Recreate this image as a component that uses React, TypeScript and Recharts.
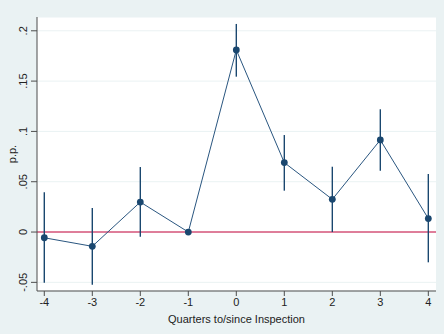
import React from "react";
import {
  ComposedChart,
  Line,
  ErrorBar,
  XAxis,
  YAxis,
  CartesianGrid,
  ReferenceLine,
} from "recharts";

// event-study estimates with 95% bands, by quarter relative to inspection
const quarters = [-4, -3, -2, -1, 0, 1, 2, 3, 4];
const estimates = [-0.0057, -0.0142, 0.0298, 0, 0.181, 0.069, 0.0325, 0.0915, 0.0134];
const ciLow = [-0.0504, -0.0524, -0.0047, 0, 0.1544, 0.0411, 0.0, 0.0609, -0.0301];
const ciHigh = [0.0395, 0.0239, 0.0646, 0, 0.2068, 0.0964, 0.0649, 0.122, 0.0577];
const yTicks = [-0.05, 0, 0.05, 0.1, 0.15, 0.2];

const NAVY = "#1a476f";
const BG = "#eaf2f3";
const AXIS = "#4d4d4d";
const FONT = "'Liberation Sans', Arial, Helvetica, sans-serif";

const data = quarters.map((q, i) => ({
  q,
  est: estimates[i],
  // ErrorBar wants offsets below/above the estimate
  ci: [estimates[i] - ciLow[i], ciHigh[i] - estimates[i]],
}));

// Stata-style labels: drop the leading zero (".05", "-.05")
const fmt = (v: number) => String(v).replace(/^(-?)0\./, "$1.");

const YTick = (props: any) => {
  const { x, y, payload } = props;
  return (
    <text
      x={x}
      y={y}
      transform={`rotate(-90 ${x} ${y})`}
      textAnchor="middle"
      fontSize={11}
      fontFamily={FONT}
      fill="#222"
    >
      {fmt(payload.value)}
    </text>
  );
};

const YTitle = (props: any) => {
  const vb = props.viewBox || {};
  const x = 16;
  const y = (vb.y ?? 0) + (vb.height ?? 0) / 2;
  return (
    <text
      x={x}
      y={y}
      transform={`rotate(-90 ${x} ${y})`}
      textAnchor="middle"
      fontSize={11}
      fontFamily={FONT}
      fill="#222"
    >
      p.p.
    </text>
  );
};

export default function App() {
  return (
    <div style={{ position: "absolute", left: 0, top: 0, width: 444, height: 334, background: BG }}>
      <ComposedChart
        width={444}
        height={334}
        data={data}
        margin={{ top: 17, right: 8, bottom: 0, left: 0 }}
      >
        <CartesianGrid vertical={false} stroke={BG} strokeWidth={1} fill="#ffffff" />
        <XAxis
          dataKey="q"
          type="number"
          domain={[-4.152, 4.16]}
          ticks={quarters}
          interval={0}
          height={43}
          tickSize={5}
          tickMargin={2}
          stroke={AXIS}
          tick={{ fontSize: 11, fontFamily: FONT, fill: "#222" }}
          label={{
            value: "Quarters to/since Inspection",
            position: "insideBottom",
            offset: 11,
            fontSize: 11,
            fontFamily: FONT,
            fill: "#222",
          }}
        />
        <YAxis
          type="number"
          domain={[-0.0586, 0.2137]}
          ticks={yTicks}
          width={37}
          tickSize={6}
          tickMargin={4}
          stroke={AXIS}
          tick={<YTick />}
          label={<YTitle />}
        />
        <ReferenceLine y={0} stroke="#d7557a" strokeWidth={1.6} />
        <Line
          dataKey="est"
          type="linear"
          stroke="#2a5680"
          strokeWidth={1}
          dot={{ r: 3.4, fill: NAVY, stroke: NAVY, strokeWidth: 0 }}
          isAnimationActive={false}
        >
          <ErrorBar dataKey="ci" direction="y" width={0} stroke={NAVY} strokeWidth={1.4} />
        </Line>
      </ComposedChart>
    </div>
  );
}
